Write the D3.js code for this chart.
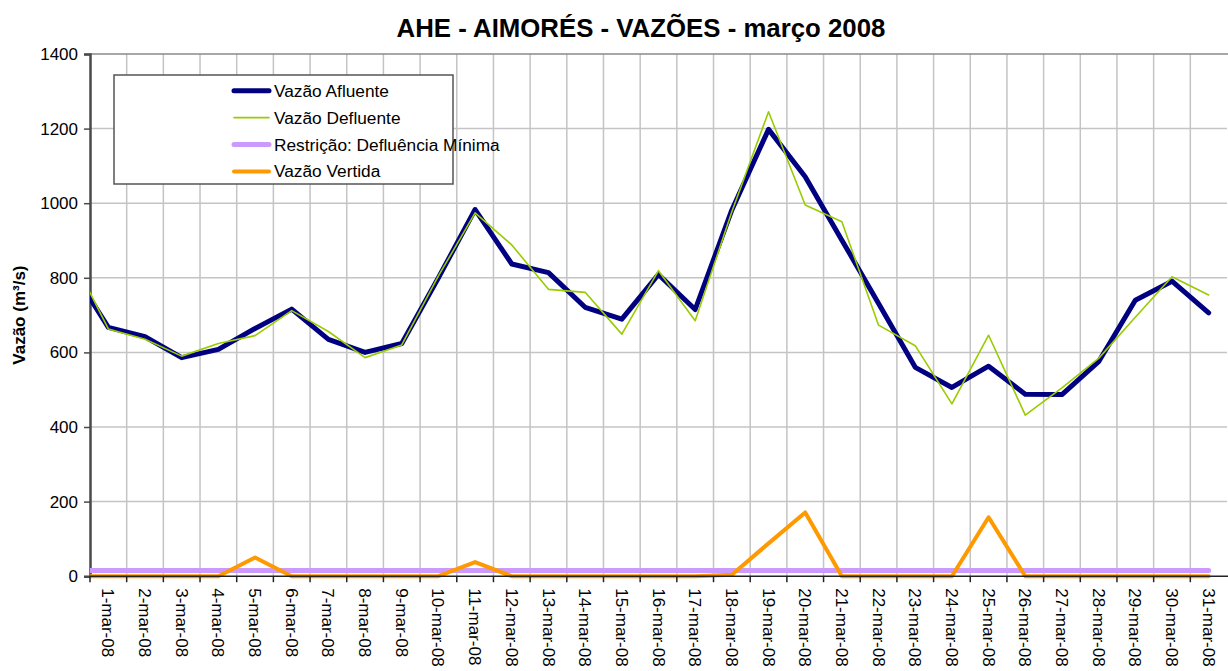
<!DOCTYPE html>
<html>
<head>
<meta charset="utf-8">
<script src="https://cdn.jsdelivr.net/npm/d3@7.9.0/dist/d3.min.js"></script>
<style>
  html, body { margin: 0; padding: 0; background: #fff; }
  text { font-family: "Liberation Sans", Arial, sans-serif; fill: #000; }
</style>
</head>
<body>
<script>
// days of march 2008 (category labels)
const days = d3.range(1, 32).map(d => d + "-mar-08");

// value of 29-fev, only visible as the line coming in from the left edge
const prevAfluente = 823;
const prevDefluente = 857;
const prevVertida = 0;
const restricaoMin = 15;

const afluente = [667, 642, 586, 608, 664, 716, 635, 600, 624, 800, 983, 837, 814, 721, 689, 809,
  715, 982, 1198, 1071, 901, 731, 560, 506, 563, 488, 487, 575, 740, 791, 706];
const defluente = [663, 635, 590, 624, 645, 712, 656, 586, 620, 805, 974, 888, 769, 761, 649, 819,
  685, 977, 1245, 995, 950, 673, 618, 462, 646, 432, 505, 584, 694, 803, 754];
const vertida = [0, 0, 0, 0, 50, 0, 0, 0, 0, 0, 38, 0, 0, 0, 0, 0,
  0, 4, 88, 171, 0, 0, 0, 0, 158, 0, 0, 0, 0, 0, 0];

const yTicks = [0, 200, 400, 600, 800, 1000, 1200, 1400];

const width = 1228, height = 671;
const plotLeft = 90, plotRight = 1227, plotTop = 54, plotBottom = 576.2;

const svg = d3.select("body").append("svg")
    .attr("width", width)
    .attr("height", height);

svg.append("rect").attr("width", width).attr("height", height).attr("fill", "#fff");

// index 0 = 29-fev, 1..31 = days of march
const x = d3.scaleLinear().domain([0.5, 31.5]).range([plotLeft, plotRight]);
const y = d3.scaleLinear().domain([0, 1400]).range([plotBottom, plotTop]);

// grid
svg.append("g").selectAll("line")
    .data(yTicks.slice(1, -1))
    .join("line")
    .attr("x1", plotLeft).attr("x2", plotRight)
    .attr("y1", d => y(d)).attr("y2", d => y(d))
    .attr("stroke", "#c4c4c4").attr("stroke-width", 1.5);

svg.append("g").selectAll("line")
    .data(d3.range(1, 31))
    .join("line")
    .attr("x1", d => x(d + 0.5)).attr("x2", d => x(d + 0.5))
    .attr("y1", plotTop).attr("y2", plotBottom)
    .attr("stroke", "#c4c4c4").attr("stroke-width", 1.5);

// top border of plot area
svg.append("line")
    .attr("x1", plotLeft).attr("x2", width)
    .attr("y1", y(1400)).attr("y2", y(1400))
    .attr("stroke", "#8a8a8a").attr("stroke-width", 1.5);

// y axis
const yAxis = svg.append("g")
    .attr("transform", `translate(${plotLeft},0)`)
    .call(d3.axisLeft(y).tickValues(yTicks).tickFormat(d3.format("d")).tickSize(6).tickPadding(6));
yAxis.select(".domain").attr("stroke", "#4a4a4a").attr("stroke-width", 2.5);
yAxis.selectAll(".tick line").attr("stroke", "#4a4a4a").attr("stroke-width", 1.5);
yAxis.selectAll(".tick text")
    .style("font-family", "'Liberation Sans', Arial, sans-serif")
    .style("font-size", "17px")
    .attr("fill", "#000");

// clip for the series
svg.append("clipPath").attr("id", "plot-clip")
  .append("rect")
    .attr("x", plotLeft).attr("y", plotTop - 10)
    .attr("width", plotRight - plotLeft + 10).attr("height", plotBottom - plotTop + 14);

const plot = svg.append("g").attr("clip-path", "url(#plot-clip)");

const line = d3.line()
    .x((d, i) => x(i))
    .y(d => y(d));

const series = [
  { name: "Restrição: Defluência Mínima", values: [restricaoMin].concat(afluente.map(() => restricaoMin)), color: "#cc99ff", w: 5 },
  { name: "Vazão Vertida", values: [prevVertida].concat(vertida), color: "#ff9900", w: 4 },
  { name: "Vazão Afluente", values: [prevAfluente].concat(afluente), color: "#000080", w: 5 },
  { name: "Vazão Defluente", values: [prevDefluente].concat(defluente), color: "#99cc00", w: 1.6 }
];

plot.selectAll("path")
    .data(series)
    .join("path")
    .attr("d", d => line(d.values))
    .attr("fill", "none")
    .attr("stroke", d => d.color)
    .attr("stroke-width", d => d.w)
    .attr("stroke-linejoin", "round")
    .attr("stroke-linecap", "round");

// x axis
svg.append("line")
    .attr("x1", plotLeft).attr("x2", width)
    .attr("y1", plotBottom).attr("y2", plotBottom)
    .attr("stroke", "#222").attr("stroke-width", 1.5);

svg.append("g").selectAll("line")
    .data(d3.range(0, 31))
    .join("line")
    .attr("x1", d => x(d + 0.5)).attr("x2", d => x(d + 0.5))
    .attr("y1", plotBottom).attr("y2", plotBottom + 6)
    .attr("stroke", "#222").attr("stroke-width", 1.5);

svg.append("g").selectAll("text")
    .data(days)
    .join("text")
    .attr("transform", (d, i) => `translate(${x(i + 1)},${plotBottom + 12}) rotate(90)`)
    .attr("dy", "0.35em")
    .style("font-size", "17px")
    .text(d => d);

// title
svg.append("text")
    .attr("x", 641).attr("y", 37)
    .attr("text-anchor", "middle")
    .style("font-size", "25.8px")
    .style("font-weight", "bold")
    .text("AHE - AIMORÉS - VAZÕES - março 2008");

// y axis title
svg.append("text")
    .attr("transform", `translate(25,${(plotTop + plotBottom) / 2}) rotate(-90)`)
    .attr("text-anchor", "middle")
    .style("font-size", "17px")
    .style("font-weight", "bold")
    .text("Vazão (m³/s)");

// legend
const legend = svg.append("g");
legend.append("rect")
    .attr("x", 114).attr("y", 75)
    .attr("width", 339).attr("height", 109)
    .attr("fill", "#fff")
    .attr("stroke", "#555").attr("stroke-width", 1.5);

const legendOrder = ["Vazão Afluente", "Vazão Defluente", "Restrição: Defluência Mínima", "Vazão Vertida"]
    .map(n => series.find(s => s.name === n));

const rows = legend.selectAll("g.row")
    .data(legendOrder)
    .join("g")
    .attr("class", "row")
    .attr("transform", (d, i) => `translate(0,${90.7 + i * 26.9})`);

rows.append("line")
    .attr("x1", 234).attr("x2", 269)
    .attr("stroke", d => d.color)
    .attr("stroke-width", d => d.w)
    .attr("stroke-linecap", "round");

rows.append("text")
    .attr("x", 274)
    .attr("dy", "0.35em")
    .style("font-size", "17.3px")
    .text(d => d.name);
</script>
</body>
</html>
